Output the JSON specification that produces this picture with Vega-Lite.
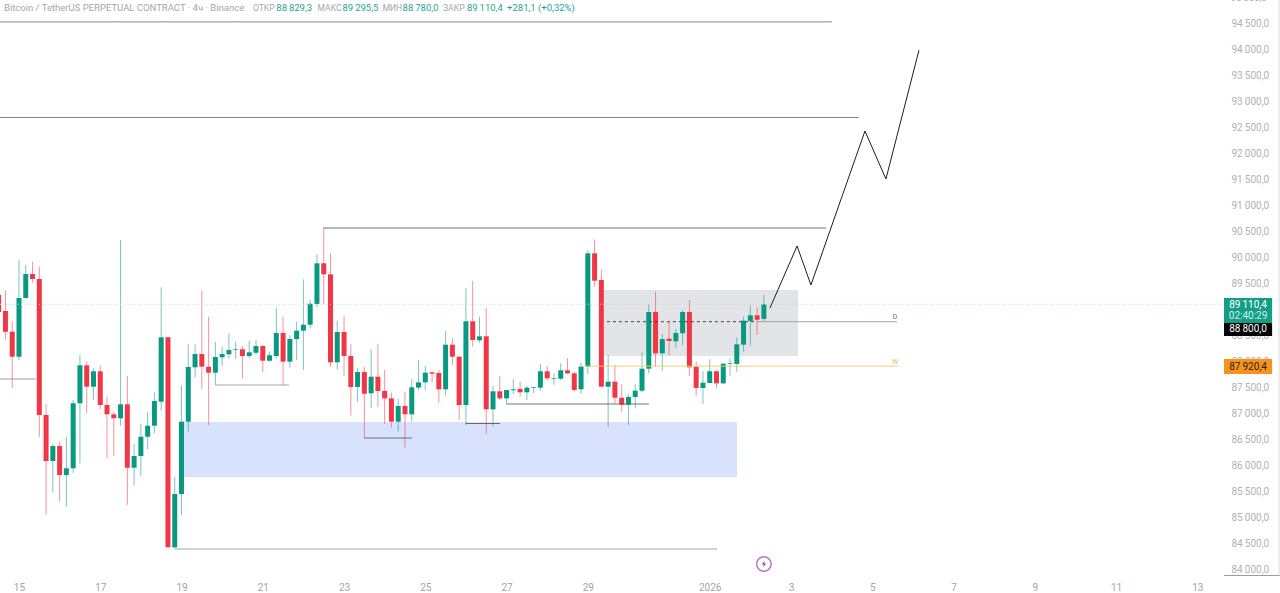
{
  "$schema": "https://vega.github.io/schema/vega-lite/v6.json",
  "width": 1224,
  "height": 575,
  "autosize": "none",
  "padding": {"left": 0, "top": 0, "right": 56, "bottom": 18},
  "background": "#ffffff",
  "config": {"view": {"stroke": null}, "text": {"font": "Roboto"}, "axis": {"labelFont": "Roboto"}},
  "datasets": {
    "candles": [
      {"t":"2025-12-14T12:00Z","open":89288,"high":89346,"low":88846,"close":88961},
      {"t":"2025-12-14T16:00Z","open":88981,"high":89371,"low":88423,"close":88583},
      {"t":"2025-12-14T20:00Z","open":88583,"high":88775,"low":87500,"close":88102},
      {"t":"2025-12-15T00:00Z","open":88102,"high":89961,"low":88038,"close":89231},
      {"t":"2025-12-15T04:00Z","open":89231,"high":89865,"low":89225,"close":89692},
      {"t":"2025-12-15T08:00Z","open":89692,"high":89929,"low":89525,"close":89596},
      {"t":"2025-12-15T12:00Z","open":89596,"high":89833,"low":86563,"close":86981},
      {"t":"2025-12-15T16:00Z","open":86981,"high":87192,"low":85071,"close":86096},
      {"t":"2025-12-15T20:00Z","open":86096,"high":86423,"low":85486,"close":86384},
      {"t":"2025-12-16T00:00Z","open":86384,"high":86467,"low":85313,"close":85827},
      {"t":"2025-12-16T04:00Z","open":85827,"high":86563,"low":85217,"close":85956},
      {"t":"2025-12-16T08:00Z","open":85956,"high":87269,"low":85865,"close":87206},
      {"t":"2025-12-16T12:00Z","open":87206,"high":88135,"low":86052,"close":87936},
      {"t":"2025-12-16T16:00Z","open":87936,"high":88006,"low":87013,"close":87525},
      {"t":"2025-12-16T20:00Z","open":87525,"high":87879,"low":87269,"close":87821},
      {"t":"2025-12-17T00:00Z","open":87821,"high":87929,"low":87090,"close":87173},
      {"t":"2025-12-17T04:00Z","open":87173,"high":87333,"low":86148,"close":86994},
      {"t":"2025-12-17T08:00Z","open":86994,"high":87044,"low":86192,"close":86917},
      {"t":"2025-12-17T12:00Z","open":86917,"high":90346,"low":86775,"close":87186},
      {"t":"2025-12-17T16:00Z","open":87186,"high":87731,"low":85250,"close":85967},
      {"t":"2025-12-17T20:00Z","open":85967,"high":86423,"low":85621,"close":86192},
      {"t":"2025-12-18T00:00Z","open":86192,"high":86808,"low":85813,"close":86563},
      {"t":"2025-12-18T04:00Z","open":86563,"high":87044,"low":86321,"close":86775},
      {"t":"2025-12-18T08:00Z","open":86775,"high":87410,"low":86629,"close":87250},
      {"t":"2025-12-18T12:00Z","open":87236,"high":89436,"low":87063,"close":88475},
      {"t":"2025-12-18T16:00Z","open":88475,"high":88475,"low":84436,"close":84436},
      {"t":"2025-12-18T20:00Z","open":84436,"high":85794,"low":84417,"close":85461},
      {"t":"2025-12-19T00:00Z","open":85461,"high":87544,"low":85058,"close":86852},
      {"t":"2025-12-19T04:00Z","open":86852,"high":88340,"low":86660,"close":87904},
      {"t":"2025-12-19T08:00Z","open":87898,"high":88340,"low":87706,"close":88154},
      {"t":"2025-12-19T12:00Z","open":88154,"high":89371,"low":87481,"close":87910},
      {"t":"2025-12-19T16:00Z","open":87910,"high":88871,"low":86788,"close":87794},
      {"t":"2025-12-19T20:00Z","open":87794,"high":88390,"low":87558,"close":88096},
      {"t":"2025-12-20T00:00Z","open":88090,"high":88294,"low":87929,"close":88154},
      {"t":"2025-12-20T04:00Z","open":88148,"high":88552,"low":88071,"close":88231},
      {"t":"2025-12-20T08:00Z","open":88237,"high":88390,"low":88058,"close":88250},
      {"t":"2025-12-20T12:00Z","open":88244,"high":88308,"low":87686,"close":88115},
      {"t":"2025-12-20T16:00Z","open":88115,"high":88410,"low":88071,"close":88187},
      {"t":"2025-12-20T20:00Z","open":88179,"high":88423,"low":88135,"close":88308},
      {"t":"2025-12-21T00:00Z","open":88308,"high":88327,"low":87802,"close":88025},
      {"t":"2025-12-21T04:00Z","open":88025,"high":88198,"low":88006,"close":88129},
      {"t":"2025-12-21T08:00Z","open":88115,"high":89033,"low":88071,"close":88558},
      {"t":"2025-12-21T12:00Z","open":88558,"high":88871,"low":87558,"close":88006},
      {"t":"2025-12-21T16:00Z","open":88006,"high":88519,"low":87890,"close":88442},
      {"t":"2025-12-21T20:00Z","open":88442,"high":88775,"low":88038,"close":88602},
      {"t":"2025-12-22T00:00Z","open":88602,"high":89590,"low":87846,"close":88717},
      {"t":"2025-12-22T04:00Z","open":88717,"high":89192,"low":88648,"close":89121},
      {"t":"2025-12-22T08:00Z","open":89115,"high":90077,"low":89052,"close":89898},
      {"t":"2025-12-22T12:00Z","open":89898,"high":90590,"low":89115,"close":89686},
      {"t":"2025-12-22T16:00Z","open":89686,"high":90090,"low":87910,"close":87994},
      {"t":"2025-12-22T20:00Z","open":87994,"high":88794,"low":87860,"close":88577},
      {"t":"2025-12-23T00:00Z","open":88577,"high":88890,"low":87731,"close":88115},
      {"t":"2025-12-23T04:00Z","open":88115,"high":88340,"low":86967,"close":87519},
      {"t":"2025-12-23T08:00Z","open":87519,"high":87879,"low":87236,"close":87807},
      {"t":"2025-12-23T12:00Z","open":87807,"high":87910,"low":86532,"close":87390},
      {"t":"2025-12-23T16:00Z","open":87398,"high":88244,"low":87121,"close":87717},
      {"t":"2025-12-23T20:00Z","open":87717,"high":88340,"low":87140,"close":87442},
      {"t":"2025-12-24T00:00Z","open":87442,"high":87846,"low":86808,"close":87301},
      {"t":"2025-12-24T04:00Z","open":87301,"high":87410,"low":86744,"close":86852},
      {"t":"2025-12-24T08:00Z","open":86852,"high":87301,"low":86660,"close":87154},
      {"t":"2025-12-24T12:00Z","open":87154,"high":87429,"low":86352,"close":86994},
      {"t":"2025-12-24T16:00Z","open":86994,"high":87667,"low":86852,"close":87513},
      {"t":"2025-12-24T20:00Z","open":87509,"high":88038,"low":87461,"close":87609},
      {"t":"2025-12-25T00:00Z","open":87609,"high":87929,"low":87461,"close":87794},
      {"t":"2025-12-25T04:00Z","open":87802,"high":87813,"low":87609,"close":87775},
      {"t":"2025-12-25T08:00Z","open":87788,"high":87846,"low":87217,"close":87475},
      {"t":"2025-12-25T12:00Z","open":87475,"high":88590,"low":87352,"close":88333},
      {"t":"2025-12-25T16:00Z","open":88333,"high":88456,"low":87942,"close":88102},
      {"t":"2025-12-25T20:00Z","open":88102,"high":88102,"low":86885,"close":87173},
      {"t":"2025-12-26T00:00Z","open":87173,"high":89417,"low":86788,"close":88783},
      {"t":"2025-12-26T04:00Z","open":88783,"high":89558,"low":88294,"close":88423},
      {"t":"2025-12-26T08:00Z","open":88417,"high":88871,"low":88371,"close":88494},
      {"t":"2025-12-26T12:00Z","open":88494,"high":89033,"low":86615,"close":87090},
      {"t":"2025-12-26T16:00Z","open":87090,"high":87544,"low":86756,"close":87436},
      {"t":"2025-12-26T20:00Z","open":87436,"high":87731,"low":87269,"close":87301},
      {"t":"2025-12-27T00:00Z","open":87301,"high":87461,"low":87192,"close":87461},
      {"t":"2025-12-27T04:00Z","open":87456,"high":87673,"low":87385,"close":87475},
      {"t":"2025-12-27T08:00Z","open":87481,"high":87621,"low":87333,"close":87417},
      {"t":"2025-12-27T12:00Z","open":87417,"high":87538,"low":87269,"close":87506},
      {"t":"2025-12-27T16:00Z","open":87506,"high":87525,"low":87398,"close":87519},
      {"t":"2025-12-27T20:00Z","open":87506,"high":87961,"low":87448,"close":87821},
      {"t":"2025-12-28T00:00Z","open":87821,"high":87923,"low":87654,"close":87686},
      {"t":"2025-12-28T04:00Z","open":87679,"high":87782,"low":87558,"close":87692},
      {"t":"2025-12-28T08:00Z","open":87679,"high":87975,"low":87654,"close":87840},
      {"t":"2025-12-28T12:00Z","open":87840,"high":88071,"low":87763,"close":87782},
      {"t":"2025-12-28T16:00Z","open":87782,"high":87813,"low":87429,"close":87461},
      {"t":"2025-12-28T20:00Z","open":87475,"high":87986,"low":87385,"close":87910},
      {"t":"2025-12-29T00:00Z","open":87910,"high":90154,"low":87769,"close":90090},
      {"t":"2025-12-29T04:00Z","open":90090,"high":90360,"low":89448,"close":89563},
      {"t":"2025-12-29T08:00Z","open":89577,"high":89783,"low":87525,"close":87525},
      {"t":"2025-12-29T12:00Z","open":87525,"high":88135,"low":86756,"close":87621},
      {"t":"2025-12-29T16:00Z","open":87621,"high":87942,"low":87206,"close":87313},
      {"t":"2025-12-29T20:00Z","open":87313,"high":87571,"low":87044,"close":87179},
      {"t":"2025-12-30T00:00Z","open":87179,"high":87385,"low":86788,"close":87327},
      {"t":"2025-12-30T04:00Z","open":87327,"high":87571,"low":87110,"close":87448},
      {"t":"2025-12-30T08:00Z","open":87448,"high":88187,"low":87423,"close":87871},
      {"t":"2025-12-30T12:00Z","open":87871,"high":89115,"low":87782,"close":88961},
      {"t":"2025-12-30T16:00Z","open":88961,"high":89352,"low":87910,"close":88167},
      {"t":"2025-12-30T20:00Z","open":88167,"high":88538,"low":87833,"close":88442},
      {"t":"2025-12-31T00:00Z","open":88448,"high":88775,"low":88135,"close":88404},
      {"t":"2025-12-31T04:00Z","open":88398,"high":88635,"low":88263,"close":88558},
      {"t":"2025-12-31T08:00Z","open":88552,"high":89000,"low":88327,"close":88961},
      {"t":"2025-12-31T12:00Z","open":88961,"high":89192,"low":87731,"close":87898},
      {"t":"2025-12-31T16:00Z","open":87904,"high":88006,"low":87352,"close":87500},
      {"t":"2025-12-31T20:00Z","open":87500,"high":87827,"low":87192,"close":87602},
      {"t":"2026-01-01T00:00Z","open":87596,"high":88052,"low":87590,"close":87821},
      {"t":"2026-01-01T04:00Z","open":87821,"high":87846,"low":87494,"close":87590},
      {"t":"2026-01-01T08:00Z","open":87590,"high":87975,"low":87577,"close":87967},
      {"t":"2026-01-01T12:00Z","open":87961,"high":88071,"low":87736,"close":87975},
      {"t":"2026-01-01T16:00Z","open":87961,"high":88475,"low":87813,"close":88340},
      {"t":"2026-01-01T20:00Z","open":88333,"high":88871,"low":88198,"close":88794},
      {"t":"2026-01-02T00:00Z","open":88788,"high":89090,"low":88308,"close":88898},
      {"t":"2026-01-02T04:00Z","open":88898,"high":89052,"low":88519,"close":88813},
      {"t":"2026-01-02T08:00Z","open":88829.3,"high":89295.5,"low":88780,"close":89110.4}
    ],
    "zones": [
      {"t":"2025-12-18T23:42Z","t2":"2026-01-01T16:06Z","p":86846,"p2":85788,"kind":"blue"},
      {"t":"2025-12-29T09:36Z","t2":"2026-01-03T04:12Z","p":89384,"p2":88115,"kind":"grey"}
    ],
    "levels": [
      {"t":"2025-12-14T12:47Z","t2":"2026-01-13T15:47Z","p":89110.4,"kind":"price"},
      {"t":"2025-12-14T12:47Z","t2":"2026-01-04T00:12Z","p":94540,"kind":"mid"},
      {"t":"2025-12-14T12:47Z","t2":"2026-01-04T16:12Z","p":92702,"kind":"mid"},
      {"t":"2025-12-22T12:00Z","t2":"2026-01-03T20:42Z","p":90577,"kind":"dark"},
      {"t":"2025-12-18T20:00Z","t2":"2026-01-01T04:18Z","p":84404,"kind":"grey"},
      {"t":"2025-12-19T20:00Z","t2":"2025-12-21T15:30Z","p":87558,"kind":"grey"},
      {"t":"2025-12-23T12:00Z","t2":"2025-12-24T16:06Z","p":86538,"kind":"dark"},
      {"t":"2025-12-26T00:00Z","t2":"2025-12-26T20:06Z","p":86817,"kind":"dark"},
      {"t":"2025-12-27T00:00Z","t2":"2025-12-30T12:06Z","p":87192,"kind":"dark"},
      {"t":"2025-12-14T12:47Z","t2":"2025-12-15T10:00Z","p":87673,"kind":"grey"},
      {"t":"2025-12-29T11:18Z","t2":"2026-01-02T04:00Z","p":88775,"kind":"dashed"},
      {"t":"2026-01-02T04:00Z","t2":"2026-01-05T14:36Z","p":88775,"kind":"grey"},
      {"t":"2025-12-28T22:18Z","t2":"2026-01-05T15:12Z","p":87920.4,"kind":"orange"},
      {"t":"2026-01-13T15:47Z","t2":"2026-01-15T00:54Z","p":83894,"kind":"grey"}
    ],
    "edge": [{"t":"2026-01-15T00:18Z","p":94961.5,"p2":83894}],
    "path": [
      {"t":"2026-01-02T11:36Z","p":89038},
      {"t":"2026-01-03T03:36Z","p":90231},
      {"t":"2026-01-03T11:48Z","p":89481},
      {"t":"2026-01-04T19:42Z","p":92442},
      {"t":"2026-01-05T08:06Z","p":91519},
      {"t":"2026-01-06T03:36Z","p":93996}
    ],
    "tags": [
      {"t":"2026-01-13T15:47Z","t2":"2026-01-14T20:12Z","p":89231,"p2":88750,"kind":"last"},
      {"t":"2026-01-13T15:47Z","t2":"2026-01-14T20:12Z","p":88750,"p2":88500,"kind":"day"},
      {"t":"2026-01-13T15:47Z","t2":"2026-01-14T20:12Z","p":88058,"p2":87769,"kind":"week"}
    ],
    "tagText": [
      {"t":"2026-01-14T06:00Z","p":89105,"text":"89\u2009110,4","kind":"white"},
      {"t":"2026-01-14T06:00Z","p":88885,"text":"02:40:29","kind":"soft"},
      {"t":"2026-01-14T06:00Z","p":88625,"text":"88\u2009800,0","kind":"white"},
      {"t":"2026-01-14T06:00Z","p":87904,"text":"87\u2009920,4","kind":"ink"}
    ],
    "header": [
      {"t":"2025-12-14T15:08Z","p":94808,"text":"Bitcoin / TetherUS PERPETUAL CONTRACT · 4ч · Binance","kind":"muted"},
      {"t":"2025-12-21T08:00Z","p":94808,"text":"88\u2009829,3","kind":"up"},
      {"t":"2025-12-22T23:06Z","p":94808,"text":"89\u2009295,5","kind":"up"},
      {"t":"2025-12-24T10:36Z","p":94808,"text":"88\u2009780,0","kind":"up"},
      {"t":"2025-12-26T00:36Z","p":94808,"text":"89\u2009110,4","kind":"up"},
      {"t":"2025-12-27T00:18Z","p":94808,"text":"+281,1 (+0,32%)","kind":"up"},
      {"t":"2026-01-13T19:54Z","p":95000,"text":"95\u2009000,0","kind":"muted"}
    ],
    "headerKeys": [
      {"t":"2025-12-20T18:12Z","p":94808,"text":"ОТКР"},
      {"t":"2025-12-22T08:24Z","p":94808,"text":"МАКС"},
      {"t":"2025-12-23T22:48Z","p":94808,"text":"МИН"},
      {"t":"2025-12-25T10:30Z","p":94808,"text":"ЗАКР"}
    ],
    "marks": [
      {"t":"2026-01-05T13:30Z","p":88865,"text":"D","kind":"d"},
      {"t":"2026-01-05T13:30Z","p":88000,"text":"W","kind":"w"}
    ],
    "icon": [{"t":"2026-01-02T08:00Z","p":84115}]
  },
  "resolve": {"scale": {"color": "independent"}, "axis": {"y": "independent"}},
  "encoding": {
    "x": {
      "field": "t",
      "type": "temporal",
      "title": null,
      "scale": {"type": "utc", "domain": ["2025-12-14T12:47Z", "2026-01-13T15:47Z"], "nice": false, "padding": 0},
      "axis": {
        "values": ["2025-12-15T00:00Z","2025-12-17T00:00Z","2025-12-19T00:00Z","2025-12-21T00:00Z","2025-12-23T00:00Z","2025-12-25T00:00Z","2025-12-27T00:00Z","2025-12-29T00:00Z","2026-01-01T00:00Z","2026-01-03T00:00Z","2026-01-05T00:00Z","2026-01-07T00:00Z","2026-01-09T00:00Z","2026-01-11T00:00Z","2026-01-13T00:00Z"],
        "labelExpr": "utcdate(datum.value) == 1 ? '2026' : utcFormat(datum.value, '%-d')",
        "grid": false, "ticks": false, "domain": false,
        "labelColor": "#a0a3ac", "labelFontSize": 10, "labelPadding": 7, "labelOverlap": false, "labelBound": false, "labelFlush": false
      }
    },
    "y": {
      "field": "p",
      "type": "quantitative",
      "title": null,
      "scale": {"domain": [83903.8, 94961.5], "zero": false, "nice": false, "padding": 0},
      "axis": null
    }
  },
  "layer": [
    {
      "data": {"name": "zones"},
      "mark": {"type": "rect"},
      "encoding": {
        "y": {
          "field": "p",
          "type": "quantitative",
          "title": null,
          "axis": {
            "orient": "right",
            "values": [84000,84500,85000,85500,86000,86500,87000,87500,88000,88500,89500,90000,90500,91000,91500,92000,92500,93000,93500,94000,94500],
            "labelExpr": "replace(replace(format(datum.value, ',.1f'), ',', '\u2009'), '.', ',')",
            "grid": false, "ticks": false, "domain": false,
            "labelColor": "#aeb1b9", "labelFontSize": 10, "labelPadding": 7, "labelOverlap": false, "labelBound": false
          }
        },
        "x2": {"field": "t2"},
        "y2": {"field": "p2"},
        "color": {"field": "kind", "type": "nominal", "legend": null, "scale": {"domain": ["blue", "grey"], "range": ["#d9e2fd", "#e3e4e8"]}}
      }
    },
    {
      "data": {"name": "candles"},
      "mark": {"type": "rule", "strokeWidth": 1, "opacity": 0.55},
      "encoding": {
        "y": {"field": "low", "type": "quantitative", "axis": null},
        "y2": {"field": "high"},
        "color": {"condition": {"test": "datum.close >= datum.open", "value": "#089981"}, "value": "#f23645"}
      }
    },
    {
      "data": {"name": "candles"},
      "mark": {"type": "bar", "size": 5},
      "encoding": {
        "y": {"field": "open", "type": "quantitative", "axis": null},
        "y2": {"field": "close"},
        "color": {"condition": {"test": "datum.close >= datum.open", "value": "#089981"}, "value": "#f23645"}
      }
    },
    {
      "data": {"name": "levels"},
      "mark": {"type": "rule", "strokeWidth": 1},
      "encoding": {
        "x2": {"field": "t2"},
        "color": {"field": "kind", "type": "nominal", "legend": null, "scale": {"domain": ["price", "mid", "dark", "grey", "dashed", "orange"], "range": ["#b5e3da", "#85868b", "#5f6066", "#9c9da3", "#44454b", "#f6c878"]}},
        "strokeDash": {"field": "kind", "type": "nominal", "legend": null, "scale": {"domain": ["price", "mid", "dark", "grey", "dashed", "orange"], "range": [[1, 2], [1, 0], [1, 0], [1, 0], [3, 3], [1, 0]]}}
      }
    },
    {
      "data": {"name": "edge"},
      "mark": {"type": "rule", "strokeWidth": 1, "color": "#d9dadf"},
      "encoding": {"y2": {"field": "p2"}}
    },
    {
      "data": {"name": "path"},
      "mark": {"type": "line", "stroke": "#1c1c1f", "strokeWidth": 1}
    },
    {
      "data": {"name": "tags"},
      "mark": {"type": "rect"},
      "encoding": {
        "x2": {"field": "t2"},
        "y2": {"field": "p2"},
        "color": {"field": "kind", "type": "nominal", "legend": null, "scale": {"domain": ["last", "day", "week"], "range": ["#129f86", "#000000", "#f7931a"]}}
      }
    },
    {
      "data": {"name": "tagText"},
      "mark": {"type": "text", "fontSize": 10, "align": "center", "baseline": "middle"},
      "encoding": {
        "text": {"field": "text"},
        "color": {"field": "kind", "type": "nominal", "legend": null, "scale": {"domain": ["white", "soft", "ink"], "range": ["#ffffff", "#d4efe9", "#2a2013"]}}
      }
    },
    {
      "data": {"name": "header"},
      "mark": {"type": "text", "fontSize": 9.5, "align": "left", "baseline": "middle"},
      "encoding": {
        "text": {"field": "text"},
        "color": {"field": "kind", "type": "nominal", "legend": null, "scale": {"domain": ["muted", "up"], "range": ["#a3a6ae", "#1fa58c"]}}
      }
    },
    {
      "data": {"name": "headerKeys"},
      "mark": {"type": "text", "fontSize": 8.5, "align": "left", "baseline": "middle", "color": "#a3a6ae"},
      "encoding": {"text": {"field": "text"}}
    },
    {
      "data": {"name": "marks"},
      "mark": {"type": "text", "fontSize": 7, "align": "center", "baseline": "middle"},
      "encoding": {
        "text": {"field": "text"},
        "color": {"field": "kind", "type": "nominal", "legend": null, "scale": {"domain": ["d", "w"], "range": ["#6a6b70", "#e9b45c"]}}
      }
    },
    {
      "data": {"name": "icon"},
      "mark": {"type": "point", "shape": "circle", "size": 210, "stroke": "#9c3fb5", "strokeWidth": 1.5, "fill": null}
    },
    {
      "data": {"name": "icon"},
      "mark": {"type": "point", "shape": "M0.2,-0.9 L-0.55,0.15 L-0.05,0.15 L-0.2,0.9 L0.55,-0.15 L0.05,-0.15 Z", "size": 64, "filled": true, "fill": "#9c3fb5", "opacity": 1}
    }
  ]
}
